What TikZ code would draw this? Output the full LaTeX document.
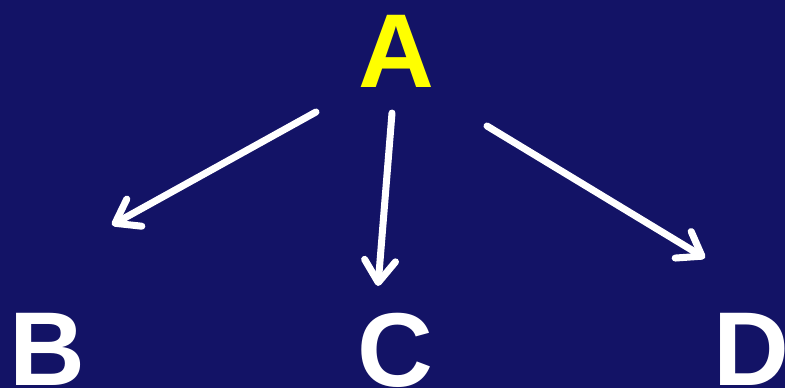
\documentclass[tikz,border=0pt]{standalone}
\usepackage{fontspec}
\setmainfont{Liberation Sans}
\usetikzlibrary{arrows.meta}
\definecolor{bgnavy}{RGB}{19,19,102}
\definecolor{ayellow}{RGB}{255,255,0}
\tikzset{
  letter/.style={font=\fontsize{105}{110}\selectfont\bfseries, inner sep=0pt, anchor=base},
  conn/.style={draw=white, line width=7pt, line cap=round,
    -{Straight Barb[length=22pt, width=31pt, line cap=round, line join=round]}}
}
\begin{document}
\begin{tikzpicture}[x=1pt,y=-1pt]
\fill[bgnavy] (0,0) rectangle (785,388);
\useasboundingbox (0,0) rectangle (785,388);
\node[letter, text=ayellow] (A) at (396,87) {A};
\node[letter, text=white] (B) at (47,385) {B};
\node[letter, text=white] (C) at (395,386) {C};
\node[letter, text=white] (D) at (751,385) {D};
\coordinate (ab0) at (316,112);
\coordinate (ab1) at (112,225);
\coordinate (ac0) at (392,113);
\coordinate (ac1) at (378,286);
\coordinate (ad0) at (487,126);
\coordinate (ad1) at (705,258);
\draw[conn] (ab0) -- (ab1);
\draw[conn] (ac0) -- (ac1);
\draw[conn] (ad0) -- (ad1);
\end{tikzpicture}
\end{document}
